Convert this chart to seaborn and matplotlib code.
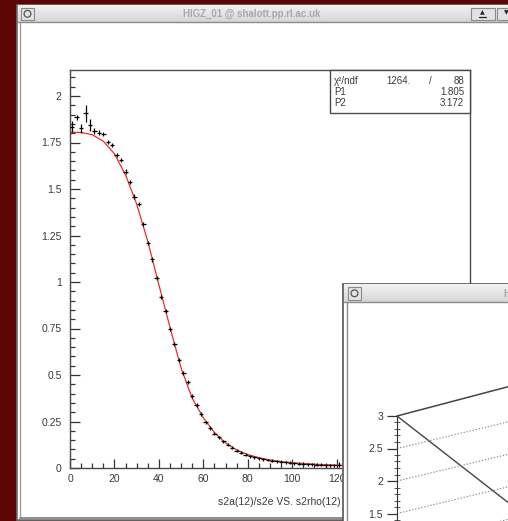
import numpy as np
import matplotlib
matplotlib.use("Agg")
import matplotlib.pyplot as plt
from matplotlib.patches import Rectangle, Circle
from matplotlib.ticker import MultipleLocator, FixedLocator, FuncFormatter
import seaborn as sns

sns.set_style("ticks")
plt.rcParams['font.family'] = ['Liberation Sans', 'DejaVu Sans']

# ---- histogram s2a(12)/s2e VS. s2rho(12): bin centres, contents, errors ----
bin_centres = [1, 3, 5, 7, 9, 11, 13, 15, 17, 19, 21, 23, 25, 27, 29, 31, 33, 35,
               37, 39, 41, 43, 45, 47, 49, 51, 53, 55, 57, 59, 61, 63, 65, 67, 69,
               71, 73, 75, 77, 79, 81, 83, 85, 87, 89, 91, 93, 95, 97, 99, 101,
               103, 105, 107, 109, 111, 113, 115, 117, 119, 121]
bin_contents = [1.835, 1.885, 1.826, 1.907, 1.844, 1.813, 1.803, 1.796, 1.754,
                1.737, 1.683, 1.656, 1.593, 1.539, 1.459, 1.419, 1.312, 1.211,
                1.122, 1.022, 0.919, 0.844, 0.747, 0.667, 0.581, 0.511, 0.462,
                0.387, 0.339, 0.290, 0.245, 0.215, 0.185, 0.165, 0.145, 0.125,
                0.108, 0.092, 0.082, 0.072, 0.064, 0.058, 0.053, 0.047, 0.043,
                0.039, 0.036, 0.033, 0.030, 0.028, 0.026, 0.024, 0.022, 0.021,
                0.019, 0.018, 0.017, 0.016, 0.015, 0.014, 0.018]
bin_errors = [0.030, 0.012, 0.025, 0.045, 0.030, 0.015, 0.012, 0.012, 0.012,
              0.012, 0.012, 0.012, 0.012, 0.012, 0.012, 0.012, 0.012, 0.012,
              0.012, 0.012, 0.012, 0.012, 0.012, 0.012, 0.012, 0.012, 0.010,
              0.010, 0.010, 0.010, 0.010, 0.010, 0.010, 0.008, 0.008, 0.008,
              0.008, 0.008, 0.008, 0.008, 0.008, 0.008, 0.008, 0.008, 0.008,
              0.008, 0.008, 0.008, 0.008, 0.008, 0.008, 0.008, 0.008, 0.008,
              0.008, 0.008, 0.008, 0.008, 0.008, 0.008, 0.015]
bin_half_width = 1.0
x_range = (0, 180)
x_labelled_max = 120

# ---- fit result and the fitted curve ----
fit_chi2 = "1264."
fit_ndf = "88"
fit_p1 = 1.805
fit_p2 = 3.172
fit_curve_x = [0, 5, 10, 15, 20, 25, 30, 35, 40, 45, 50, 55, 60, 65, 70, 75,
               80, 85, 90, 95, 100, 110, 120, 130, 140, 150, 160, 170, 180]
fit_curve_y = [fit_p1, 1.804, 1.792, 1.757, 1.689, 1.576, 1.419, 1.219, 0.985,
               0.756, 0.537, 0.375, 0.270, 0.190, 0.135, 0.097, 0.072, 0.055,
               0.043, 0.034, 0.028, 0.020, 0.015, 0.012, 0.010, 0.008, 0.007,
               0.006, 0.005]

# ---- lego view in the second window ----
lego_ticks = [1.5, 2.0, 2.5, 3.0]
lego_levels = [2.5, 2.0, 1.5, 1.0]
lego_top = 3.0
lego_back_rise = 0.45
lego_grid_rise = 0.41
lego_front_drop = 1.33

W, H = 508, 521
fig = plt.figure(figsize=(W / 100, H / 100), dpi=100)
fig.patch.set_facecolor("#5e0505")

TXT = "#3a3a3a"


def rect(x0, y0, x1, y1):
    return [x0 / W, 1 - y1 / H, (x1 - x0) / W, (y1 - y0) / H]


def pixel_layer(z):
    a = fig.add_axes([0, 0, 1, 1], zorder=z)
    a.set_xlim(0, W)
    a.set_ylim(H, 0)
    a.axis("off")
    a.patch.set_alpha(0)
    return a


def title_bar(a, x0, y0, x1, y1):
    shade = np.linspace(0.95, 0.84, 24)[:, None, None] * np.ones((24, 4, 3))
    a.imshow(shade, extent=[x0, x1, y1, y0], aspect="auto", zorder=1,
             interpolation="bilinear")
    a.plot([x0, x1], [y1, y1], color="#8c8c8c", lw=1, zorder=2)
    a.set_xlim(0, W)
    a.set_ylim(H, 0)


def window_button(a, x, y, w, h):
    a.add_patch(Rectangle((x, y), w, h, facecolor="#e2e2e2",
                          edgecolor="#8a8a8a", lw=0.8, zorder=3))


# ---- main window frame ----
bg = pixel_layer(0)
bg.add_patch(Rectangle((17, 5), 520, 515, facecolor="white",
                       edgecolor="#6e6e6e", lw=1.2, zorder=0))
title_bar(bg, 17.5, 5.5, 515, 22)
bg.plot([20, 20], [22, 518], color="#9a9a9a", lw=1, zorder=2)
bg.plot([20, 515], [518, 518], color="#7a7a7a", lw=1.2, zorder=2)
window_button(bg, 21, 7.5, 13, 12.5)
bg.add_patch(Circle((27.5, 13.8), 3.4, facecolor="none", edgecolor="#555555",
                    lw=0.9, zorder=4))
bg.text(252, 13.5, "HIGZ_01 @ shalott.pp.rl.ac.uk", ha="center", va="center",
        fontsize=7, fontweight="bold", color="#a8a8a8", zorder=4)
window_button(bg, 470.5, 7.5, 24, 12.5)
bg.text(482.5, 13, "▲", ha="center", va="center", fontsize=4.5,
        color="#222222", zorder=4, family=["DejaVu Sans"])
bg.plot([479, 486], [16.8, 16.8], color="#222222", lw=0.9, zorder=4)
window_button(bg, 496.5, 7.5, 20, 12.5)
bg.text(506.5, 13, "▼", ha="center", va="center", fontsize=4.5,
        color="#222222", zorder=4, family=["DejaVu Sans"])

# ---- main plot: histogram with fit ----
ax = fig.add_axes(rect(70, 70, 470, 468), zorder=1)
ax.set_facecolor("white")
sns.lineplot(x=fit_curve_x, y=fit_curve_y, ax=ax, color="#ef2a2a", lw=0.9,
             estimator=None, zorder=2)
ax.errorbar(bin_centres, bin_contents, xerr=bin_half_width, yerr=bin_errors,
            fmt="none", ecolor="black", elinewidth=0.9, capsize=0, zorder=3)
ax.set_xlim(*x_range)
ax.set_ylim(0, 398 / 186)
ax.set_xlabel("")
ax.set_ylabel("")
for s in ax.spines.values():
    s.set_color("#4a4a4a")
    s.set_linewidth(1.0)
ax.xaxis.set_major_locator(MultipleLocator(20))
ax.xaxis.set_minor_locator(MultipleLocator(5))
ax.xaxis.set_major_formatter(
    FuncFormatter(lambda v, p: f"{v:g}" if v <= x_labelled_max else ""))
ax.yaxis.set_major_locator(MultipleLocator(0.25))
ax.yaxis.set_minor_locator(MultipleLocator(0.05))
ax.yaxis.set_major_formatter(FuncFormatter(lambda v, p: f"{v:g}"))
ax.tick_params(which="both", direction="in", top=False, right=False,
               color="#333333", width=0.9, labelsize=7.5, labelcolor=TXT)
ax.tick_params(axis="y", which="major", length=7, pad=6)
ax.tick_params(axis="y", which="minor", length=3.5)
ax.tick_params(axis="x", which="major", length=6.5, pad=4)
ax.tick_params(axis="x", which="minor", length=3.5)

# ---- statistics box and axis title ----
ov = pixel_layer(1.5)
ov.add_patch(Rectangle((330, 70), 140, 42.5, facecolor="white",
                       edgecolor="#4a4a4a", lw=1.0, zorder=1))
ov.text(334, 81.5, "χ²/ndf", ha="left", va="center", fontsize=7, color=TXT)
ov.text(386, 81, fit_chi2, ha="left", va="center", fontsize=7, color=TXT)
ov.text(430, 81, "/", ha="center", va="center", fontsize=7, color=TXT)
ov.text(464, 81, fit_ndf, ha="right", va="center", fontsize=7, color=TXT)
ov.text(334, 92, "P1", ha="left", va="center", fontsize=7, color=TXT)
ov.text(464, 92, f"{fit_p1:.3f}", ha="right", va="center", fontsize=7,
        color=TXT)
ov.text(334, 103, "P2", ha="left", va="center", fontsize=7, color=TXT)
ov.text(464, 103, f"{fit_p2:.3f}", ha="right", va="center", fontsize=7,
        color=TXT)
ov.text(341, 502, "s2a(12)/s2e VS. s2rho(12)", ha="right", va="center",
        fontsize=7.5, color=TXT)

# ---- second window frame ----
w2 = pixel_layer(2)
w2.add_patch(Rectangle((343, 284), 200, 260, facecolor="white",
                       edgecolor="#555555", lw=1.2, zorder=0))
title_bar(w2, 344, 284.5, 515, 302)
w2.plot([346.5, 346.5], [302, 530], color="#8a8a8a", lw=1.0, zorder=2)
window_button(w2, 348, 287, 13, 12.5)
w2.add_patch(Circle((354.5, 293.3), 3.4, facecolor="none", edgecolor="#555555",
                    lw=0.9, zorder=4))
w2.text(503.5, 293.5, "HIGZ_02", ha="left", va="center", fontsize=7,
        fontweight="bold", color="#a8a8a8", zorder=4)

# ---- lego axis in the second window ----
ax2 = fig.add_axes(rect(397, 302, 508, 521), zorder=3)
ax2.patch.set_alpha(0)
ax2.set_xlim(0, 1)
y_lo = lego_top - (521 - 416) / 65
ax2.set_ylim(y_lo, lego_top + (416 - 302) / 65)
for name in ("top", "right", "bottom"):
    ax2.spines[name].set_visible(False)
ax2.spines["left"].set_bounds(y_lo, lego_top)
ax2.spines["left"].set_color("#333333")
ax2.set_xticks([])
ax2.yaxis.set_major_locator(FixedLocator(lego_ticks))
ax2.yaxis.set_minor_locator(FixedLocator(
    [v for v in np.arange(1.4, 3.0, 0.1) if v > y_lo]))
ax2.yaxis.set_major_formatter(FuncFormatter(lambda v, p: f"{v:g}"))
ax2.tick_params(axis="y", which="major", direction="out", length=7, width=0.9,
                pad=3, labelsize=7.5, labelcolor=TXT, color="#333333")
ax2.tick_params(axis="y", which="minor", direction="inout", length=4,
                width=0.7, color="#555555")
ax2.plot([0, 1], [lego_top, lego_top + lego_back_rise], color="#444444",
         lw=1.1, clip_on=False)
ax2.plot([0, 1], [lego_top, lego_top - lego_front_drop], color="#444444",
         lw=1.0)
for lv in lego_levels:
    ax2.plot([0, 1], [lv, lv + lego_grid_rise], color="#888888", lw=0.8,
             ls=(0, (1.2, 1.6)))

fig.savefig("out.png", dpi=100, facecolor=fig.get_facecolor())
